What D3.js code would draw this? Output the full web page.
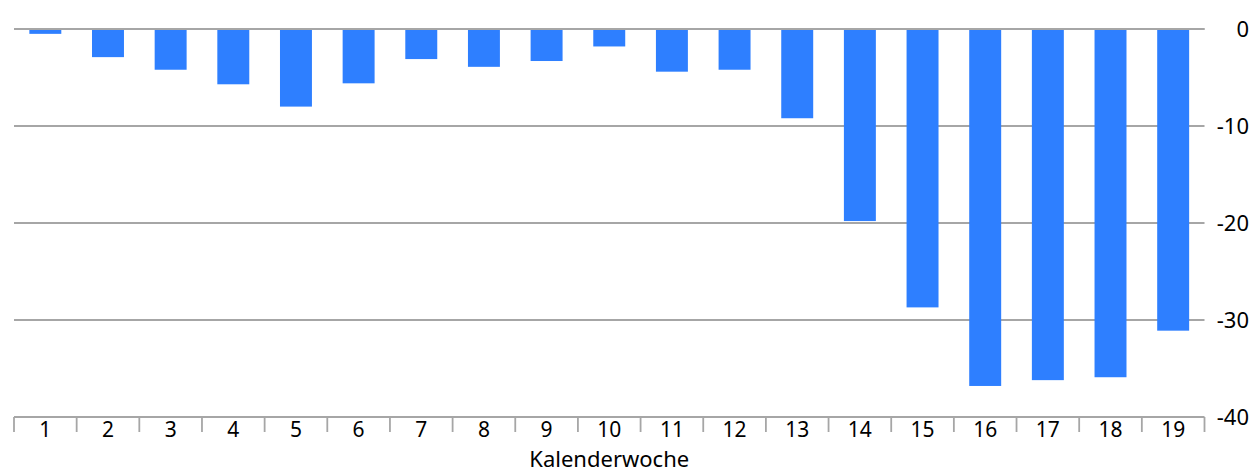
<!DOCTYPE html>
<html><head><meta charset="utf-8">
<script src="https://cdn.jsdelivr.net/npm/d3@7"></script>
<style>body{margin:0;background:#fff}svg{display:block}text{font-family:"Noto Sans",sans-serif;fill:#000}</style>
</head><body><svg id="c" width="1251" height="472"></svg>
<script>
const weeks = ["1","2","3","4","5","6","7","8","9","10","11","12","13","14","15","16","17","18","19"];
const values = [-0.5,-2.9,-4.2,-5.7,-8.0,-5.6,-3.1,-3.9,-3.3,-1.8,-4.4,-4.2,-9.2,-19.8,-28.7,-36.8,-36.2,-35.9,-31.1];
const yTicks = [0,-10,-20,-30,-40];
const xTitle = "Kalenderwoche";

const svg = d3.select("#c");
const L = 14, R = 1204.5, T = 29, B = 417;
const x = d3.scaleBand().domain(weeks).range([L, R]).paddingInner(0.49).paddingOuter(0.245);
const y = d3.scaleLinear().domain([0, -40]).range([T, B]);

svg.append("g").selectAll("line").data(yTicks).join("line")
  .attr("x1", L).attr("x2", R).attr("y1", d => y(d)).attr("y2", d => y(d))
  .attr("stroke", "#a6a6a6").attr("stroke-width", 1.8);

svg.append("g").selectAll("rect").data(values).join("rect")
  .attr("x", (d, i) => x(weeks[i]))
  .attr("width", x.bandwidth())
  .attr("y", d => y(Math.max(0, d)))
  .attr("height", d => Math.abs(y(d) - y(0)))
  .attr("fill", "#2e7fff");

svg.append("line").attr("x1", L).attr("x2", R).attr("y1", y(0)).attr("y2", y(0))
  .attr("stroke", "#a6a6a6").attr("stroke-width", 1.8);

svg.append("g").selectAll("text").data(yTicks).join("text")
  .attr("x", 1249).attr("y", d => y(d)).attr("dy", "0.35em")
  .attr("text-anchor", "end").attr("font-size", 22)
  .text(d => d === 0 ? "0" : "-" + Math.abs(d));

const edges = d3.range(weeks.length + 1).map(i => L + i * (R - L) / weeks.length);
svg.append("g").selectAll("line").data(edges).join("line")
  .attr("x1", d => d).attr("x2", d => d).attr("y1", B).attr("y2", B + 15)
  .attr("stroke", "#a6a6a6").attr("stroke-width", 1.8);
svg.append("g").selectAll("text").data(weeks).join("text")
  .attr("x", d => x(d) + x.bandwidth() / 2).attr("y", 437)
  .attr("text-anchor", "middle").attr("font-size", 21)
  .text(d => d);

svg.append("text").attr("x", (L + R) / 2).attr("y", 467)
  .attr("text-anchor", "middle").attr("font-size", 22).text(xTitle);
</script></body></html>
